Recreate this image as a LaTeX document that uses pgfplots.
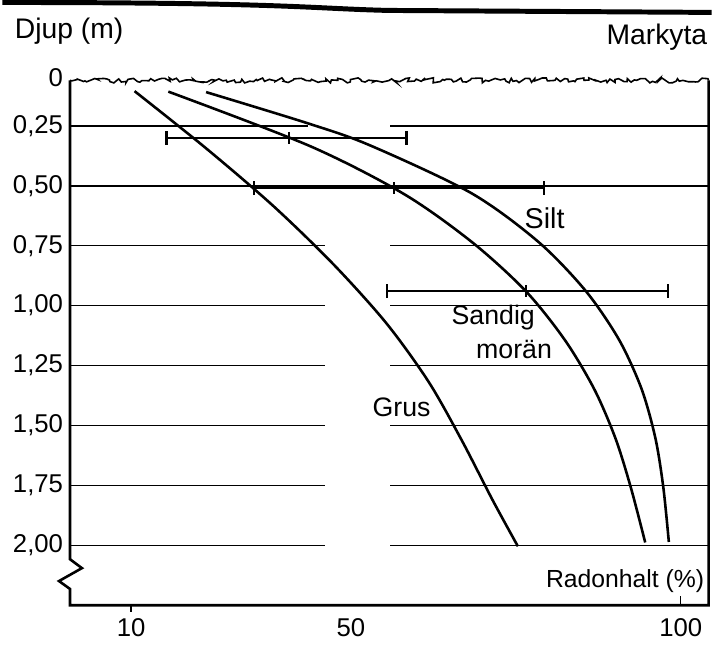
\documentclass[border=0pt]{standalone}
\usepackage{fontspec}
\setmainfont{Liberation Sans}
\usepackage{pgfplots}
\pgfplotsset{compat=1.18}
\usetikzlibrary{decorations.pathmorphing}

% depth (m) against radon content (%), one table per soil
\pgfplotstableread{
x y
10.57 0.105
22.16 0.341
33.28 0.584
43.19 0.829
51.82 1.074
58.75 1.319
64.21 1.565
69.19 1.811
73.33 2.004
}\grus
\pgfplotstableread{
x y
16.10 0.107
39.27 0.334
54.73 0.535
65.92 0.737
74.65 0.940
81.07 1.145
85.87 1.350
89.33 1.555
91.85 1.761
94.18 1.988
}\moran
\pgfplotstableread{
x y
22.28 0.109
38.91 0.239
49.01 0.330
65.67 0.530
76.65 0.733
84.39 0.937
89.87 1.141
93.58 1.347
95.85 1.553
97.15 1.759
98.05 1.986
}\silt

\begin{document}
\begin{tikzpicture}
\begin{axis}[
  scale only axis,
  width=321.5bp, height=265.5bp,
  xmin=0, xmax=104.55,
  ymin=0.05, ymax=2.25,
  y dir=reverse,
  axis line style={draw=none},
  clip=false,
  xtick={10,46,100},
  xticklabels={10,50,100},
  ytick={0.25,0.5,0.75,1,1.25,1.5,1.75,2},
  yticklabels={{0,25},{0,50},{0,75},{1,00},{1,25},{1,50},{1,75},{2,00}},
  extra y ticks={0.05},
  extra y tick labels={0},
  extra y tick style={ytick style={draw=none}},
  xtick style={draw=none},
  ytick style={draw=none},
  xtick pos=bottom, ytick pos=left,
  xticklabel style={yshift=-3bp},
  tick label style={font=\fontsize{13}{15}\selectfont},
  /pgf/number format/assume math mode=true,
]
% grid lines, with the gap in the middle as printed
\pgfplotsinvokeforeach{0.75,1,1.25,1.5,1.75,2}{
  \draw[line width=0.7bp] (axis cs:0,#1) -- (axis cs:41.8,#1);
  \draw[line width=0.7bp] (axis cs:52.4,#1) -- (axis cs:104.55,#1);
}
\draw[line width=0.7bp] (axis cs:0,0.25) -- (axis cs:38.9,0.25);
\draw[line width=0.7bp] (axis cs:52.4,0.25) -- (axis cs:104.55,0.25);
\draw[line width=0.7bp] (axis cs:0,0.5) -- (axis cs:104.55,0.5);

% axes
\draw[line width=1.3bp] (axis cs:0,0.06) -- (axis cs:0,2.058) -- (axis cs:1.95,2.095)
  -- (axis cs:-1.8,2.149) -- (axis cs:0,2.182) -- (axis cs:0,2.25) -- (axis cs:104.55,2.25)
  -- (axis cs:104.55,0.06);
\draw[line width=0.6bp] (axis cs:10,2.25) -- (axis cs:10,2.28);
\draw[line width=0.6bp] (axis cs:100,2.25) -- (axis cs:100,2.21);
\draw[line width=0.8bp, decorate,
  decoration={random steps, segment length=1.6bp, amplitude=1.3bp}]
  (axis cs:0,0.06) -- (axis cs:104.55,0.06);

% curves
\addplot[black, line width=1.3bp, smooth] table[x=x,y=y] {\grus};
\addplot[black, line width=1.3bp, smooth] table[x=x,y=y] {\moran};
\addplot[black, line width=1.3bp, smooth] table[x=x,y=y] {\silt};

% spread of the Sandig moran values
\addplot[black, line width=1.1bp, only marks, mark=|, mark size=3bp,
  mark options={line width=1.1bp},
  error bars/.cd, x dir=both, x explicit,
  error bar style={line width=1.1bp},
  error mark options={rotate=90, mark size=3.5bp, line width=1.1bp}]
  coordinates {
    (35.9,0.30) += (19.2,0) -= (20.1,0)
    (53.0,0.51) += (24.6,0) -= (22.9,0)
    (74.7,0.94) += (23.2,0) -= (22.8,0)
  };

% texts
\node[anchor=center, font=\fontsize{14.5}{16}\selectfont] at (axis cs:77.7,0.637) {Silt};
\node[anchor=center, font=\fontsize{13.5}{15}\selectfont] at (axis cs:69.3,1.05) {Sandig};
\node[anchor=center, font=\fontsize{13.5}{15}\selectfont] at (axis cs:72.7,1.181) {morän};
\node[anchor=center, font=\fontsize{13.5}{15}\selectfont] at (axis cs:54.3,1.424) {Grus};
\node[anchor=east, inner sep=0pt, font=\fontsize{12.5}{15}\selectfont]
  at (axis cs:103.9,2.149) {Radonhalt (\%)};
\node[anchor=west, inner sep=0pt, font=\fontsize{14.3}{16}\selectfont]
  at (axis cs:-9.1,-0.147) {Djup (m)};
\node[anchor=east, inner sep=0pt, font=\fontsize{14.3}{16}\selectfont]
  at (axis cs:104.4,-0.12) {Markyta};
\end{axis}
% page edge at the top of the scan
\draw[line width=2.5bp]
  ([xshift=-34bp,yshift=38bp]current axis.north west) .. controls
  ([xshift=110bp,yshift=38bp]current axis.north west) and
  ([xshift=120bp,yshift=35bp]current axis.north west) ..
  ([xshift=160bp,yshift=34bp]current axis.north west) --
  ([xshift=1.5bp,yshift=33bp]current axis.north east);
\path[use as bounding box] ([xshift=-34bp,yshift=-22.5bp]current axis.south west)
  rectangle ([xshift=1.5bp,yshift=39bp]current axis.north east);
\end{tikzpicture}
\end{document}
